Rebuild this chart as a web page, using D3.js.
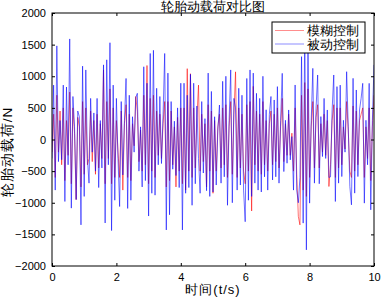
<!DOCTYPE html>
<html><head><meta charset="utf-8">
<script src="https://cdn.jsdelivr.net/npm/d3@7"></script>
<style>body{margin:0;background:#fff}text{font-family:"Liberation Sans",Arial,sans-serif}</style>
</head><body>
<svg id="c" width="382" height="297"></svg>
<script>
const timeStep = 0.05;
const passiveLoad = [
-300,860,-800,1480,-350,300,-320,860,-980,830,
-400,1590,-1085,680,200,-950,450,360,-1350,1160,
-900,1100,-300,-690,650,-200,420,-500,650,-760,
300,-450,1180,-1320,1260,-400,1530,-1440,860,-960,
650,-300,-1060,600,-560,300,965,-1090,700,-960,
360,-200,660,730,-500,200,-750,1150,-650,890,
-1210,1360,-850,1410,-880,810,-400,680,-380,400,
1360,-1430,1050,-1190,600,-470,290,-570,500,-760,
890,-1430,890,-850,700,-760,1030,-1040,890,-700,
530,-300,-850,600,-530,330,-810,1050,-900,760,
-830,360,-720,150,545,-690,920,-590,1000,-1040,
300,1100,-1000,650,500,-800,810,-720,700,-800,
-1300,965,-960,1100,-900,1050,-690,730,-800,650,
-830,1000,-590,470,-800,400,680,-640,625,-590,
836,-690,300,1046,-507,304,-375,467,-322,46,
-800,862,-800,-1000,-600,1310,-1322,1750,-1745,1650,
-1006,300,1125,-690,494,1020,-700,362,-270,650,
-300,467,-600,-590,467,1020,-980,836,-690,860,
-586,304,-200,1072,200,-743,-1033,967,-848,783,
-586,467,651,888,-1006,304,-400,888,-1112,300,
1180];
const fuzzyLoad = [
-200,400,-600,700,-200,450,-400,500,-650,300,
-250,750,-700,500,100,-950,350,200,-750,600,
-550,500,-400,-300,450,-350,300,-550,400,-450,
250,-300,1100,-700,600,-300,800,-700,500,-600,
300,-200,-600,450,-800,250,550,-600,400,-650,
250,-100,680,450,-350,150,-500,700,-400,1170,
-700,650,-500,700,-600,450,-250,400,-300,250,
600,-750,600,-650,450,-400,200,-750,350,-500,
500,-700,500,-800,1120,-500,1040,-600,500,-450,
350,860,-500,400,-350,250,-750,550,-500,450,
-850,300,-500,200,400,-450,500,-400,550,-600,
200,600,-550,400,1070,-600,500,-450,400,-500,
-700,550,-500,600,-1130,840,-400,450,-500,400,
-550,600,-400,300,-500,250,450,-400,400,-350,
500,-450,200,650,-350,250,-250,400,-250,100,
-500,500,-550,-1217,-1350,700,-800,900,-900,800,
-600,200,600,-450,350,550,-450,250,-200,400,
-250,300,-743,-400,300,550,-600,500,-450,500,
-400,200,-150,600,150,-500,-600,530,-500,450,
-400,300,400,500,-600,200,-300,500,-650,200,
700];
const xTicks = [0,2,4,6,8,10];
const yTicks = [-2000,-1500,-1000,-500,0,500,1000,1500,2000];
const seriesNames = ["模糊控制","被动控制"];
const seriesColors = ["#ff0000","#0000ff"];
const titleText = "轮胎动载荷对比图";
const xLabel = "时间(t/s)";
const yLabel = "轮胎动载荷/N";

const svg = d3.select("#c");
svg.append("rect").attr("width",382).attr("height",297).attr("fill","#fff");
const L=52,R=374,T=13,B=266;
const x = d3.scaleLinear().domain([0,10]).range([L,R]);
const y = d3.scaleLinear().domain([-2000,2000]).range([B,T]);
const cjk = '"Noto Sans CJK SC","Noto Sans",sans-serif';

svg.append("defs").append("clipPath").attr("id","clip")
  .append("rect").attr("x",L).attr("y",T).attr("width",R-L).attr("height",B-T);

const line = d3.line().x((d,i)=>x(i*timeStep)).y(d=>y(d));
const g = svg.append("g").attr("clip-path","url(#clip)");
[fuzzyLoad, passiveLoad].forEach((s,k)=>{
  g.append("path").datum(s).attr("d",line).attr("fill","none")
   .attr("stroke",seriesColors[k]).attr("stroke-width",0.7).attr("stroke-opacity",0.8);
});

// axes
const ax = svg.append("g").attr("transform",`translate(0,${B})`)
  .call(d3.axisBottom(x).tickValues(xTicks).tickSize(-3).tickPadding(7).tickFormat(d3.format("d")));
const axT = svg.append("g").attr("transform",`translate(0,${T})`)
  .call(d3.axisTop(x).tickValues(xTicks).tickSize(-3).tickFormat(""));
const ay = svg.append("g").attr("transform",`translate(${L},0)`)
  .call(d3.axisLeft(y).tickValues(yTicks).tickSize(-3).tickPadding(6).tickFormat(d3.format("d")));
const ayR = svg.append("g").attr("transform",`translate(${R},0)`)
  .call(d3.axisRight(y).tickValues(yTicks).tickSize(-3).tickFormat(""));
[ax,axT,ay,ayR].forEach(a=>{
  a.select(".domain").remove();
  a.selectAll("line").attr("stroke","#000");
  a.selectAll("text").attr("fill","#000").attr("font-size",11)
   .attr("font-family","'Liberation Sans',Arial,sans-serif");
});
svg.append("rect").attr("x",L).attr("y",T).attr("width",R-L).attr("height",B-T)
  .attr("fill","none").attr("stroke","#000").attr("stroke-width",1);

// labels
svg.append("text").attr("x",(L+R)/2).attr("y",11).attr("text-anchor","middle")
  .attr("font-size",13).attr("font-family",cjk).text(titleText);
svg.append("text").attr("x",(L+R)/2).attr("y",294).attr("text-anchor","middle")
  .attr("font-size",13).attr("letter-spacing",1).attr("font-family",cjk).text(xLabel);
svg.append("text").attr("transform",`translate(12,152) rotate(-90)`)
  .attr("text-anchor","middle").attr("font-size",13.5).attr("letter-spacing",1).attr("font-family",cjk).text(yLabel);

// legend
const lg = svg.append("g");
lg.append("rect").attr("x",272).attr("y",22).attr("width",93).attr("height",31)
  .attr("fill","#fff").attr("stroke","#000").attr("stroke-width",1);
seriesNames.forEach((n,i)=>{
  const yy = 30.5 + i*13.5;
  lg.append("line").attr("x1",275).attr("x2",304).attr("y1",yy).attr("y2",yy)
    .attr("stroke",seriesColors[i]).attr("stroke-width",0.75).attr("stroke-opacity",0.6);
  lg.append("text").attr("x",307).attr("y",yy+4.5).attr("font-size",13)
    .attr("font-family",cjk).text(n);
});
</script>
</body></html>
